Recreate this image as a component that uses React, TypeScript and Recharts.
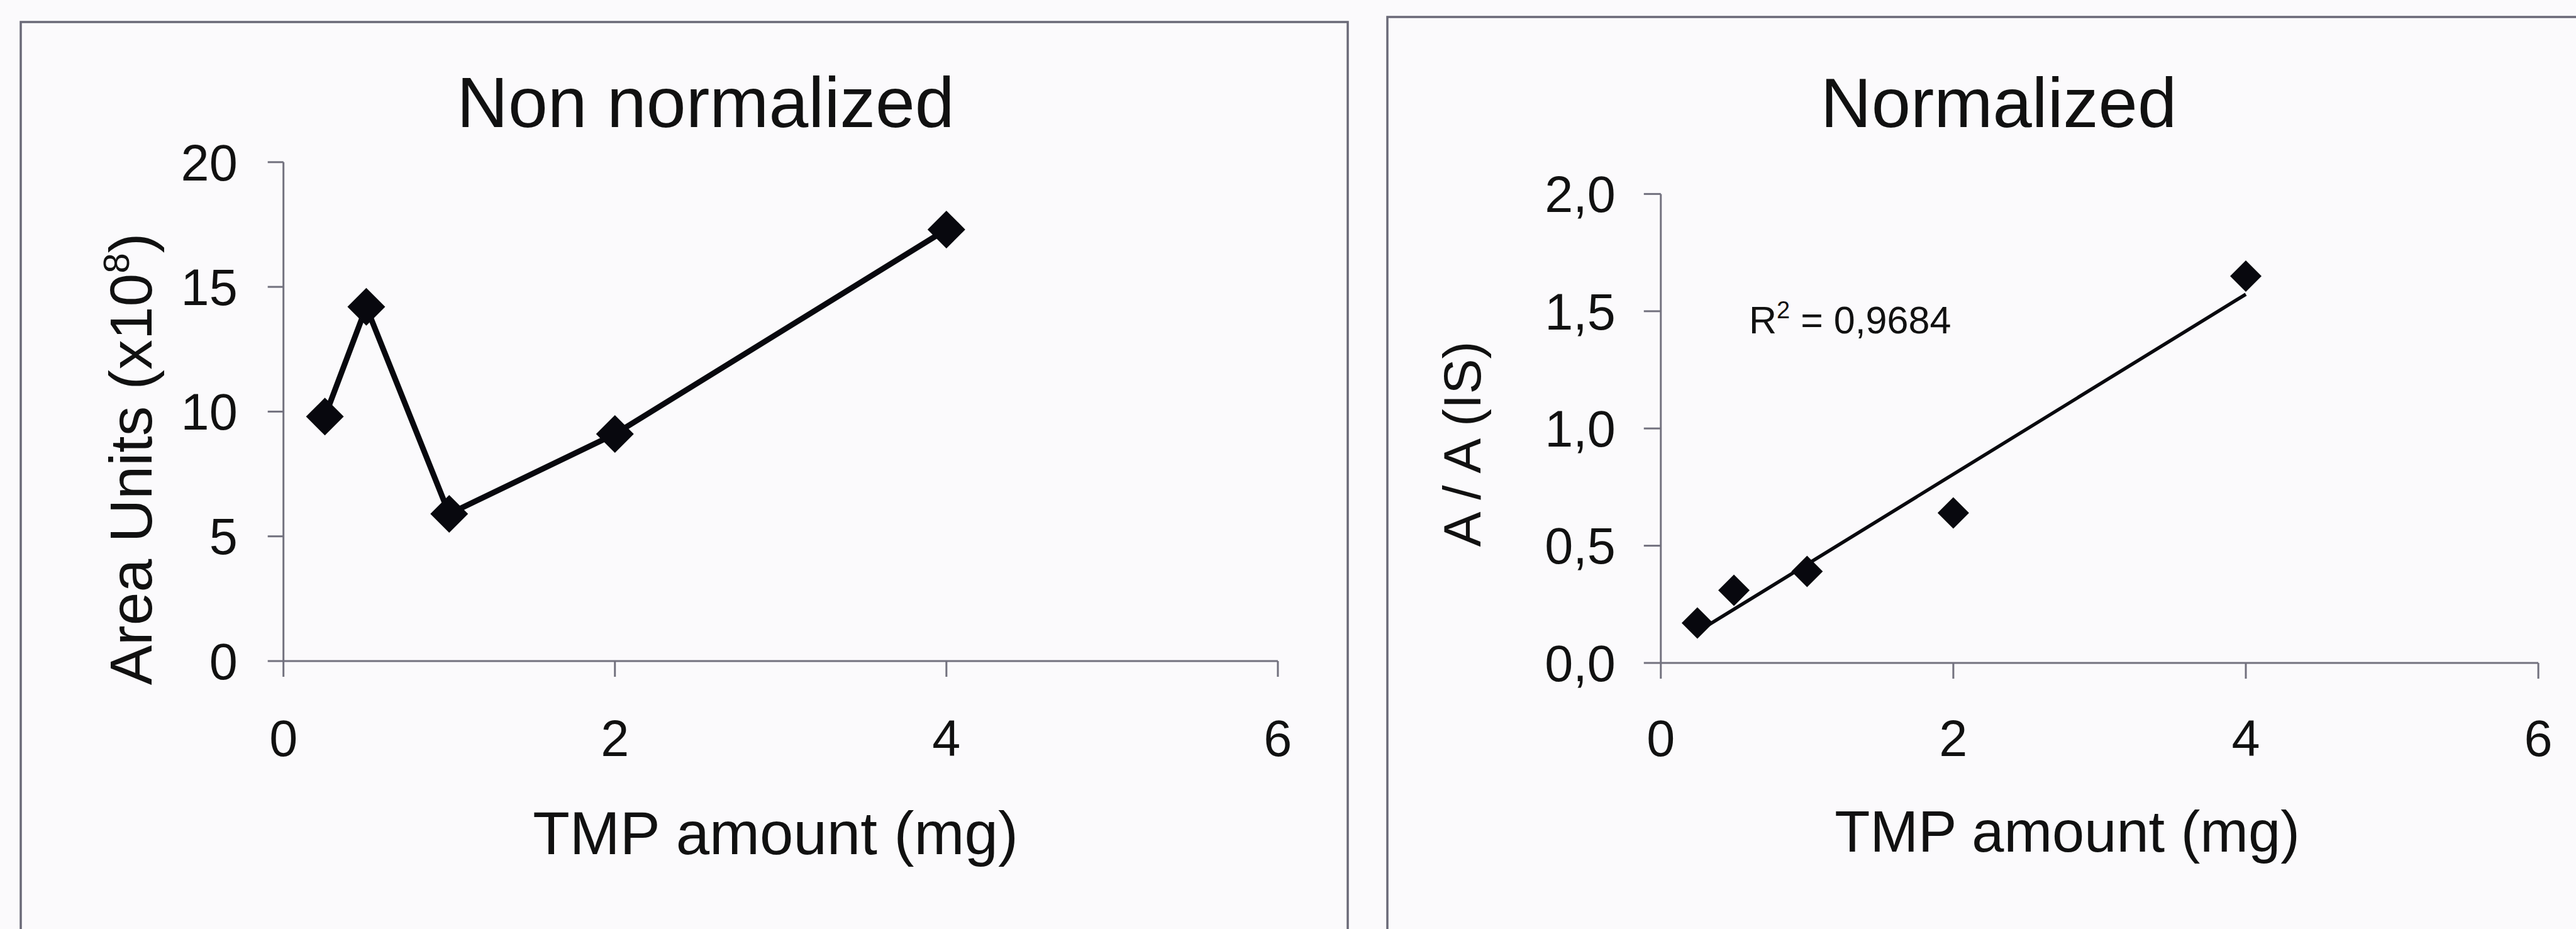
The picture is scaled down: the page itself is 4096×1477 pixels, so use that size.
import React from "react";
import { ScatterChart, Scatter, XAxis, YAxis } from "recharts";

// TMP calibration: raw peak areas and areas relative to the internal standard
const tmpAmount = [0.25, 0.5, 1, 2, 4];
const areaUnits = [9.8, 14.2, 5.9, 9.1, 17.3];
const ratioToIS = [0.17, 0.31, 0.39, 0.64, 1.65];

const xTicks = [0, 2, 4, 6];
const areaTicks = [0, 5, 10, 15, 20];
const ratioTicks = [0, 0.5, 1, 1.5, 2];
const rSquared = "0,9684";

const rawData = tmpAmount.map((x, i) => ({ x, y: areaUnits[i] }));
const normData = tmpAmount.map((x, i) => ({ x, y: ratioToIS[i] }));

const INK = "#08080e";
const AXIS = "#72717e";
const FRAME = "#6a6977";
const BG = "#fbfafc";
const FONT = "'Liberation Sans', Arial, Helvetica, sans-serif";

const tickStyle = { fontSize: 81, fill: "#111", fontFamily: FONT };

/** Filled diamond marker with half-diagonal h. */
const diamond = (h: number) => (props: any) => {
    const { cx, cy } = props;
    if (cx == null || cy == null) return <g />;
    return (
        <path
            d={`M${cx},${cy - h}L${cx + h},${cy}L${cx},${cy + h}L${cx - h},${cy}Z`}
            fill={INK}
        />
    );
};

const commaDecimal = (v: number) => v.toFixed(1).replace(".", ",");

const RawChart: React.FC = () => (
    <ScatterChart
        width={2150}
        height={1477}
        margin={{ top: 257.8, right: 118.1, bottom: 326, left: 250.7 }}
    >
        <XAxis
            type="number"
            dataKey="x"
            domain={[0, 6]}
            ticks={xTicks}
            height={100}
            tickSize={25}
            tickMargin={68}
            tick={tickStyle}
            axisLine={{ stroke: AXIS, strokeWidth: 3 }}
            tickLine={{ stroke: AXIS, strokeWidth: 3 }}
        />
        <YAxis
            type="number"
            dataKey="y"
            domain={[0, 20]}
            ticks={areaTicks}
            width={200}
            tickSize={25}
            tickMargin={48}
            tick={tickStyle}
            axisLine={{ stroke: AXIS, strokeWidth: 3 }}
            tickLine={{ stroke: AXIS, strokeWidth: 3 }}
        />
        <Scatter
            data={rawData}
            line={{ stroke: INK, strokeWidth: 9 }}
            lineType="joint"
            shape={diamond(30)}
            isAnimationActive={false}
        />
    </ScatterChart>
);

const NormChart: React.FC = () => (
    <ScatterChart
        width={1890}
        height={1477}
        margin={{ top: 308.4, right: 59.9, bottom: 323, left: 234.8 }}
    >
        <XAxis
            type="number"
            dataKey="x"
            domain={[0, 6]}
            ticks={xTicks}
            height={100}
            tickSize={25}
            tickMargin={65}
            tick={tickStyle}
            axisLine={{ stroke: AXIS, strokeWidth: 3 }}
            tickLine={{ stroke: AXIS, strokeWidth: 3 }}
        />
        <YAxis
            type="number"
            dataKey="y"
            domain={[0, 2]}
            ticks={ratioTicks}
            tickFormatter={commaDecimal}
            width={200}
            tickSize={27}
            tickMargin={45}
            tick={tickStyle}
            axisLine={{ stroke: AXIS, strokeWidth: 3 }}
            tickLine={{ stroke: AXIS, strokeWidth: 3 }}
        />
        {/* least-squares trend line through the normalized points */}
        <Scatter
            data={normData}
            line={{ stroke: INK, strokeWidth: 5.5 }}
            lineType="fitting"
            shape={diamond(25)}
            isAnimationActive={false}
        />
    </ScatterChart>
);

const App: React.FC = () => (
    <div
        style={{
            position: "absolute",
            left: 0,
            top: 0,
            width: 4096,
            height: 1477,
            background: BG,
            overflow: "hidden",
            fontFamily: FONT,
        }}
    >
        {/* panel frames */}
        <svg width={4096} height={1477} style={{ position: "absolute", left: 0, top: 0 }}>
            <rect x={33} y={35} width={2110} height={1500} fill="none" stroke={FRAME} strokeWidth={3.5} />
            <rect x={2206} y={27} width={2000} height={1500} fill="none" stroke={FRAME} strokeWidth={3.5} />
        </svg>

        <div style={{ position: "absolute", left: 0, top: 0 }}>
            <RawChart />
        </div>
        <div style={{ position: "absolute", left: 2206, top: 0 }}>
            <NormChart />
        </div>

        {/* titles and axis captions */}
        <svg
            width={4096}
            height={1477}
            style={{ position: "absolute", left: 0, top: 0, pointerEvents: "none" }}
            fontFamily={FONT}
            fill="#111"
        >
            <text x={1122} y={202} fontSize={113} textAnchor="middle">Non normalized</text>
            <text x={3178} y={202} fontSize={112} textAnchor="middle">Normalized</text>

            <text x={1233} y={1358} fontSize={96} textAnchor="middle">TMP amount (mg)</text>
            <text x={3287} y={1354} fontSize={92} textAnchor="middle">TMP amount (mg)</text>

            <text x={241} y={730} fontSize={95} textAnchor="middle" transform="rotate(-90 241 730)">
                Area Units (x10
                <tspan dy={-36} fontSize={58}>8</tspan>
                <tspan dy={36}>)</tspan>
            </text>
            <text x={2354} y={706} fontSize={84} textAnchor="middle" transform="rotate(-90 2354 706)">
                A / A (IS)
            </text>

            <text x={2781} y={530} fontSize={61}>
                R
                <tspan dy={-24} fontSize={38}>2</tspan>
                <tspan dy={24}> = {rSquared}</tspan>
            </text>
        </svg>
    </div>
);

export default App;
